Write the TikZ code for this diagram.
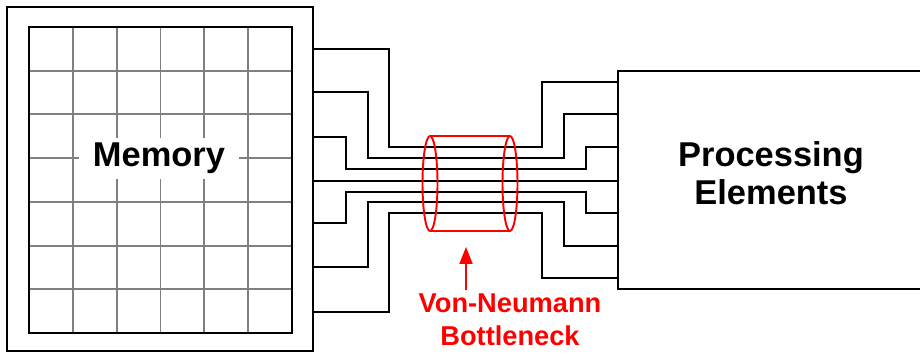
\documentclass[tikz,border=0pt]{standalone}
\usepackage{fontspec}
\setmainfont{Liberation Sans}
\usetikzlibrary{arrows.meta,positioning}
\definecolor{vnred}{RGB}{255,0,0}
\definecolor{vngray}{RGB}{128,128,128}

\begin{document}
\begin{tikzpicture}[x=0.02cm, y=-0.02cm,
    block/.style={draw=black, line width=1.1pt, inner sep=0pt},
    gridline/.style={vngray, line width=1.1pt},
    wire/.style={line width=1.1pt},
    bigtext/.style={font=\bfseries\fontsize{19.6}{21.6}\selectfont},
    redtext/.style={vnred, font=\bfseries\fontsize{15.5}{18.8}\selectfont, align=center, inner sep=0.08cm},
    cyl/.style={vnred, line width=1.1pt},
    neckarrow/.style={-{Triangle[length=0.34cm, width=0.26cm]}, vnred, line width=1.1pt}
]
\useasboundingbox (0,0) rectangle (920,354);

% Memory block with its cell grid
\node[block, minimum width=6.12cm, minimum height=6.88cm] (mem) at (160,179) {};
\foreach \i in {1,...,5} {
  \draw[gridline] (29+\i*43.83,27) -- (29+\i*43.83,333);
}
\foreach \i in {1,...,6} {
  \draw[gridline] (29,27+\i*43.71) -- (292,27+\i*43.71);
}
\draw[block] (29,27) rectangle (292,333);
\node[bigtext, fill=white, inner xsep=0.27cm, inner ysep=0.1cm, anchor=base] (memlabel) at (159,167) {Memory};

% Processing elements
\node[block, minimum width=6.16cm, minimum height=4.36cm] (pe) at (772,180) {};
\node[bigtext, align=center] (petext) at (771,173.5) {Processing\\Elements};

% Bus wires: left y / first bend / middle y / second bend / right y
\foreach \yl/\xa/\ym/\xb/\yr in {49/389/147/542/82, 92/368/158/564/114, 137/346/169/586/147,
    181/389/181/542/181, 223/346/192/586/213, 267/368/202/564/246, 312/389/213/542/278} {
  \draw[wire] (mem.east |- 0,\yl) -- (\xa,\yl) -- (\xa,\ym) -- (\xb,\ym) -- (\xb,\yr) -- (pe.west |- 0,\yr);
}

% Bottleneck cylinder
\draw[cyl] (430,136) -- (510,136) (430,231) -- (510,231);
\draw[cyl] (430,183.5) ellipse [x radius=0.15cm, y radius=0.95cm];
\draw[cyl] (510,183.5) ellipse [x radius=0.15cm, y radius=0.95cm];

% Label
\coordinate (neck) at (466,247);
\node[redtext] (vn) at (510,320) {Von-Neumann\\Bottleneck};
\draw[neckarrow] (vn.north -| neck) -- (neck);

\end{tikzpicture}
\end{document}
